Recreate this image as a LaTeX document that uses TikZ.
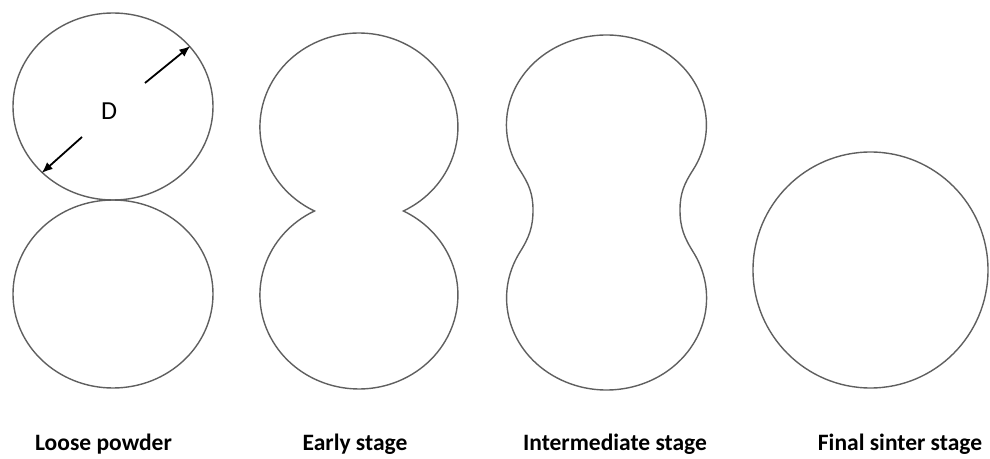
\documentclass[tikz,border=0pt]{standalone}
\usepackage{fontspec}
\setmainfont{Carlito}
\usetikzlibrary{shapes.geometric,arrows.meta}
\definecolor{grainline}{RGB}{95,95,95}
\begin{document}
\begin{tikzpicture}[
    x=1pt, y=1pt,
    grain/.style={
        draw=grainline, line width=1.4pt, ellipse, inner sep=0pt
    },
    grain outline/.style={draw=grainline, line width=1.4pt},
    stage label/.style={
        anchor=base, font=\fontsize{23.5}{28}\selectfont\bfseries,
        inner sep=0pt
    },
    dia arrow/.style={-{Latex[length=11pt,width=9pt]}, line width=1.8pt}
]
    \useasboundingbox (0,0) rectangle (990,458);

    % loose powder
    \node[grain, minimum width=200pt, minimum height=187pt] (ptop) at (113,351.5) {};
    \node[grain, minimum width=200pt, minimum height=188pt] (pbottom) at (113,164) {};
    \node[font=\fontsize{26}{30}\selectfont] (dlabel) at (109,347) {D};
    \coordinate (dtailup) at (145,375);
    \coordinate (dtaildown) at (82,321);
    \draw[dia arrow] (dtailup) -- (ptop.38);
    \draw[dia arrow] (dtaildown) -- (ptop.223);

    % early stage
    \draw[grain outline] (403.4,247)
        arc[start angle=-63.3, end angle=243.3, x radius=99, y radius=94]
        arc[start angle=116.7, end angle=423.3, x radius=99, y radius=94]
        -- cycle;

    % intermediate stage
    \draw[grain outline] (693,288)
        arc[start angle=-30, end angle=210, x radius=100, y radius=90]
        to[out=303, in=90] (533,248)
        to[out=270, in=58] (520,206)
        arc[start angle=150, end angle=390, x radius=100, y radius=92]
        to[out=122, in=270] (680,248)
        to[out=90, in=237] (693,288)
        -- cycle;

    % final sinter stage
    \node[grain, minimum width=235pt, minimum height=236pt] (final) at (870.5,188) {};

    \node[stage label] (loose) at (103.5,8) {Loose powder};
    \node[stage label] (early) at (355,8) {Early stage};
    \node[stage label] (inter) at (615,8) {Intermediate stage};
    \node[stage label] (sinter) at (900,8) {Final sinter stage};
\end{tikzpicture}
\end{document}
